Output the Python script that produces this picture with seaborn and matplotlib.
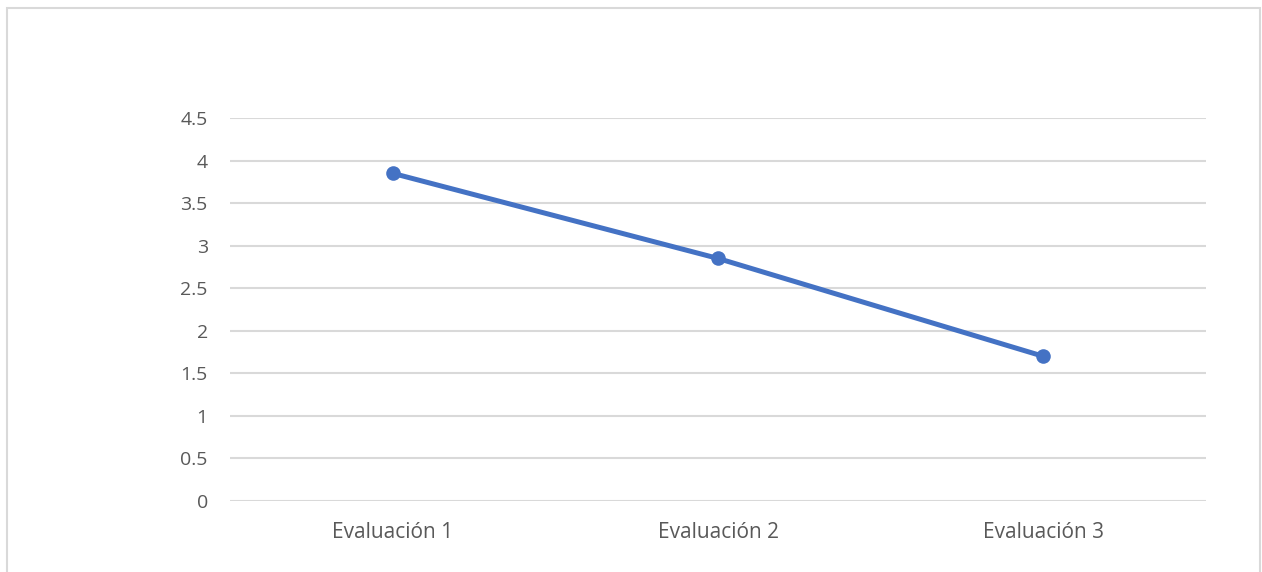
import matplotlib
matplotlib.use("Agg")
import matplotlib.pyplot as plt
import seaborn as sns
import pandas as pd
from matplotlib.patches import Rectangle

categorias = ["Evaluación 1", "Evaluación 2", "Evaluación 3"]
valores = [3.85, 2.85, 1.70]
ticks_y = [0, 0.5, 1, 1.5, 2, 2.5, 3, 3.5, 4, 4.5]

sns.set_theme(style="white")
plt.rcParams["font.family"] = ["Open Sans", "DejaVu Sans"]

df = pd.DataFrame({"categoria": categorias, "valor": valores})

fig = plt.figure(figsize=(12.62, 5.72), dpi=100)
ax = fig.add_axes([230 / 1262, 1 - 501 / 572, 976 / 1262, 383 / 572])

# chart frame
fig.patches.append(Rectangle((7 / 1262, -0.01), 1253 / 1262, 1 - 8 / 572 + 0.01,
                             transform=fig.transFigure, fill=False,
                             edgecolor="#D9D9D9", linewidth=1.5))

sns.lineplot(data=df, x="categoria", y="valor", ax=ax, color="#4472C4",
             linewidth=3.6, marker="o", markersize=10.5, markeredgewidth=0,
             sort=False)

ax.set_xlim(-0.5, 2.5)
ax.set_ylim(0, 4.5)
ax.set_yticks(ticks_y)
ax.set_yticklabels([f"{t:g}" for t in ticks_y])
for t in ticks_y:
    ax.axhline(t, color="#D9D9D9", linewidth=1.5, zorder=0)
for s in ax.spines.values():
    s.set_visible(False)
ax.set_xlabel("")
ax.set_ylabel("")
ax.tick_params(axis="both", length=0, labelcolor="#595959")
ax.tick_params(axis="y", labelsize=14, pad=16)
ax.tick_params(axis="x", labelsize=15, pad=15)

fig.savefig("out.png", dpi=100, facecolor="white")
